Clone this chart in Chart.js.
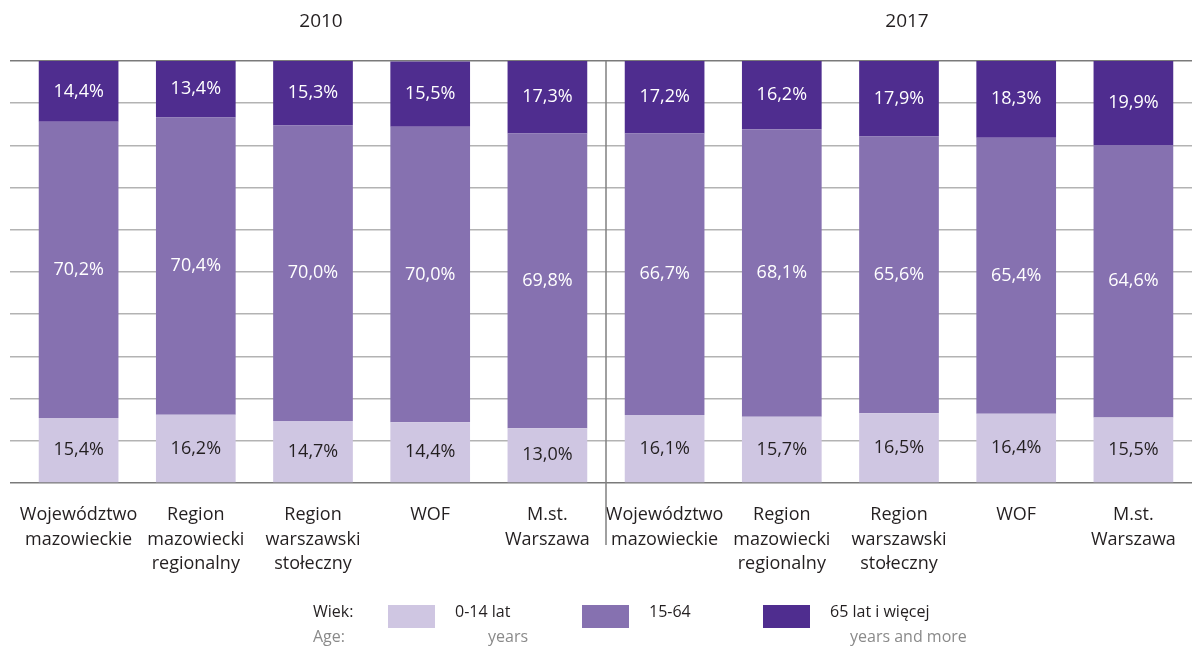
<!DOCTYPE html>
<html>
<head>
<meta charset="utf-8">
<script src="https://cdn.jsdelivr.net/npm/chart.js@4"></script>
<style>
  html, body { margin: 0; padding: 0; background: #fff; }
  #wrap { position: relative; width: 1192px; height: 647px; font-family: 'Open Sans', sans-serif; }
  #legend { position: absolute; left: 0; top: 0; width: 1192px; height: 647px; pointer-events: none; }
  .lg { position: absolute; font-size: 16px; color: #231f20; white-space: nowrap; }
  .lg.en { color: #8a8a8a; }
  .sw { position: absolute; width: 47px; height: 23px; }
</style>
</head>
<body>
<div id="wrap">
  <canvas id="ageChart" width="1192" height="647"></canvas>
  <div id="legend"></div>
</div>
<script>
// population by age group, 2010 vs 2017

const years = ['2010', '2017'];
const categories = [
  ['Województwo', 'mazowieckie'], ['Region', 'mazowiecki', 'regionalny'], ['Region', 'warszawski', 'stołeczny'], ['WOF'], ['M.st.', 'Warszawa'],
  ['Województwo', 'mazowieckie'], ['Region', 'mazowiecki', 'regionalny'], ['Region', 'warszawski', 'stołeczny'], ['WOF'], ['M.st.', 'Warszawa']
];
const age0_14  = [15.4, 16.2, 14.7, 14.4, 13.0, 16.1, 15.7, 16.5, 16.4, 15.5];
const age15_64 = [70.2, 70.4, 70.0, 70.0, 69.8, 66.7, 68.1, 65.6, 65.4, 64.6];
const age65    = [14.4, 13.4, 15.3, 15.5, 17.3, 17.2, 16.2, 17.9, 18.3, 19.9];
const seriesPl = ['0-14 lat', '15-64', '65 lat i więcej'];
const seriesEn = ['years', '', 'years and more'];
const colors = ['#cfc6e2', '#8671b0', '#4f2d8f'];
const labelColors = ['#231f20', '#ffffff', '#ffffff'];

const fmt = v => v.toFixed(1).replace('.', ',') + '%';

const extras = {
  id: 'extras',
  afterDatasetsDraw(chart) {
    const { ctx, chartArea, scales: { x } } = chart;
    ctx.save();
    // value labels
    ctx.font = '18px "Open Sans", sans-serif';
    ctx.textAlign = 'center';
    ctx.textBaseline = 'middle';
    chart.data.datasets.forEach((ds, i) => {
      chart.getDatasetMeta(i).data.forEach((bar, j) => {
        ctx.fillStyle = labelColors[i];
        ctx.fillText(fmt(ds.data[j]), bar.x, (bar.y + bar.base) / 2);
      });
    });
    // separator between years
    const half = categories.length / 2;
    const sepX = (x.getPixelForValue(half - 1) + x.getPixelForValue(half)) / 2;
    ctx.strokeStyle = '#808080';
    ctx.lineWidth = 1.5;
    ctx.beginPath();
    ctx.moveTo(sepX, chartArea.top);
    ctx.lineTo(sepX, chartArea.bottom + 62);
    ctx.stroke();
    // year headers
    ctx.fillStyle = '#231f20';
    ctx.font = '19px "Open Sans", sans-serif';
    years.forEach((y, k) => {
      const cx = (x.getPixelForValue(k * half) + x.getPixelForValue(k * half + half - 1)) / 2;
      ctx.fillText(y, cx + 8, 22);
    });
    ctx.restore();
  }
};

new Chart(document.getElementById('ageChart'), {
  type: 'bar',
  data: {
    labels: categories,
    datasets: [
      { label: seriesPl[0], data: age0_14, backgroundColor: colors[0] },
      { label: seriesPl[1], data: age15_64, backgroundColor: colors[1] },
      { label: seriesPl[2], data: age65, backgroundColor: colors[2] }
    ]
  },
  options: {
    responsive: false, animation: false,
    layout: { padding: { top: 61, left: 10, right: 0, bottom: 0 } },
    datasets: { bar: { barPercentage: 0.68, categoryPercentage: 1, borderWidth: 0 } },
    plugins: { legend: { display: false }, tooltip: { enabled: false } },
    scales: {
      x: {
        stacked: true,
        grid: { display: false }, border: { display: false },
        ticks: { color: '#231f20', padding: 12, maxRotation: 0, autoSkip: false,
                 font: { family: 'Open Sans', size: 18, lineHeight: 1.36 } },
        afterFit: s => { s.height = 164; }
      },
      y: {
        stacked: true, min: 0, max: 100,
        border: { display: false },
        ticks: { display: false, stepSize: 10 },
        grid: {
          tickLength: 10, lineWidth: 1.5,
          color: c => (c.tick.value === 0 || c.tick.value === 100) ? '#7a7a7a' : '#b3b3b3'
        },
        afterFit: s => { s.width = 10; }
      }
    }
  },
  plugins: [extras]
});

// legend
const lg = document.getElementById('legend');
const add = (html) => lg.insertAdjacentHTML('beforeend', html);
add('<div class="lg" style="left:313px;top:600px">Wiek:</div>');
add('<div class="lg en" style="left:313px;top:625px">Age:</div>');
const swX = [388, 582, 763];
const txX = [455, 649, 830];
const enX = [488, 0, 850];
seriesPl.forEach((name, i) => {
  add(`<div class="sw" style="left:${swX[i]}px;top:605px;background:${colors[i]}"></div>`);
  add(`<div class="lg" style="left:${txX[i]}px;top:600px">${name}</div>`);
  if (seriesEn[i]) add(`<div class="lg en" style="left:${enX[i]}px;top:625px">${seriesEn[i]}</div>`);
});
</script>
</body>
</html>
